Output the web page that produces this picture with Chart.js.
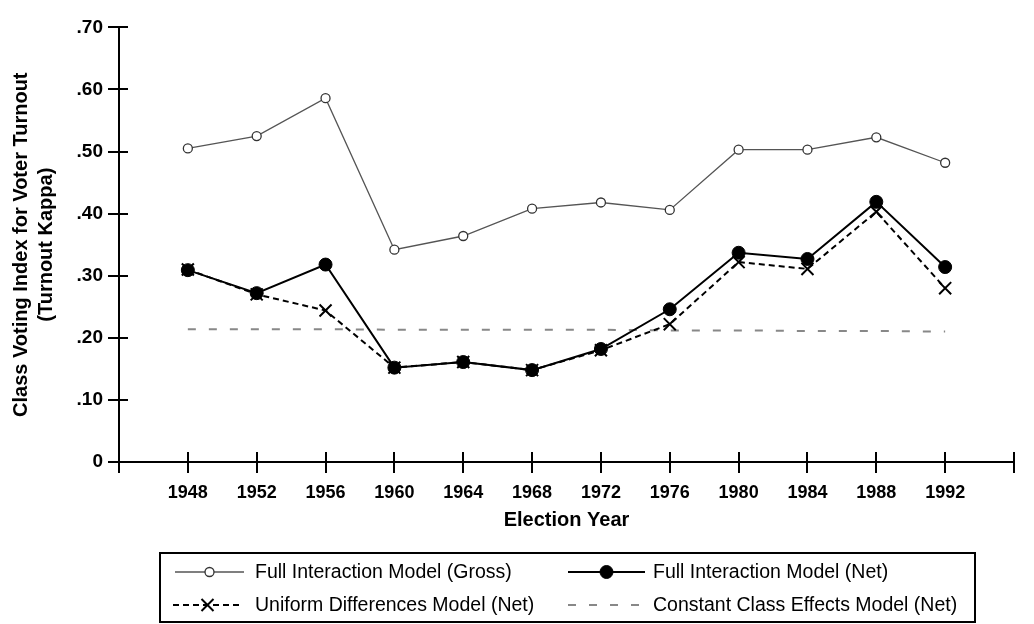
<!DOCTYPE html>
<html>
<head>
<meta charset="utf-8">
<script src="https://cdn.jsdelivr.net/npm/chart.js@4/dist/chart.umd.min.js"></script>
<style>
  html, body { margin: 0; padding: 0; background: #fff; }
  #chart { display: block; }
</style>
</head>
<body>
<canvas id="chart" width="1034" height="624"></canvas>
<script>
// election years (x axis)
const years = [1948, 1952, 1956, 1960, 1964, 1968, 1972, 1976, 1980, 1984, 1988, 1992];

// turnout kappa by model
const grossFull = [0.505, 0.525, 0.586, 0.342, 0.364, 0.408, 0.418, 0.406, 0.503, 0.503, 0.523, 0.482];
const netFull = [0.309, 0.272, 0.318, 0.152, 0.161, 0.148, 0.182, 0.246, 0.337, 0.327, 0.419, 0.314];
const uniformNet = [0.310, 0.270, 0.244, 0.152, 0.161, 0.148, 0.180, 0.222, 0.322, 0.311, 0.403, 0.280];
const constantNet = [0.214, 0.214, 0.214, 0.213, 0.213, 0.213, 0.213, 0.212, 0.212, 0.211, 0.211, 0.210];

const yTicks = [0, 0.1, 0.2, 0.3, 0.4, 0.5, 0.6, 0.7];

const FONT = "'Liberation Sans', Arial, Helvetica, sans-serif";

function pairs(vals) {
  return years.map((yr, i) => ({ x: yr, y: vals[i] }));
}

// ticks that cross the axis lines
const crossTicks = {
  id: "crossTicks",
  afterDraw(chart) {
    const ctx = chart.ctx;
    const xs = chart.scales.x;
    const ys = chart.scales.y;
    ctx.save();
    ctx.strokeStyle = "#000";
    ctx.lineWidth = 2;
    ctx.beginPath();
    xs.ticks.forEach((t) => {
      const px = Math.round(xs.getPixelForValue(t.value));
      ctx.moveTo(px, ys.bottom - 10);
      ctx.lineTo(px, ys.bottom + 11);
    });
    ys.ticks.forEach((t) => {
      const py = Math.round(ys.getPixelForValue(t.value));
      ctx.moveTo(xs.left - 11, py);
      ctx.lineTo(xs.left + 9, py);
    });
    ctx.stroke();
    ctx.restore();
  },
};

// boxed legend under the chart, two columns
const boxLegend = {
  id: "boxLegend",
  afterDraw(chart) {
    const ctx = chart.ctx;
    const sets = chart.data.datasets;
    ctx.save();
    ctx.strokeStyle = "#000";
    ctx.lineWidth = 2;
    ctx.strokeRect(160, 553, 815, 69);

    const slots = [
      { ds: sets[2], x: 175, len: 69, y: 572, text: 255 },
      { ds: sets[0], x: 568, len: 77, y: 572, text: 653 },
      { ds: sets[1], x: 173, len: 69, y: 605, text: 255 },
      { ds: sets[3], x: 568, len: 77, y: 605, text: 653 },
    ];
    slots.forEach((s) => {
      const ds = s.ds;
      const mid = s.x + s.len / 2;
      ctx.save();
      ctx.strokeStyle = ds.borderColor;
      ctx.lineWidth = ds.borderWidth;
      ctx.setLineDash(ds.borderDash || []);
      ctx.beginPath();
      ctx.moveTo(s.x, s.y);
      ctx.lineTo(s.x + s.len, s.y);
      ctx.stroke();
      ctx.setLineDash([]);
      if (ds.pointRadius > 0) {
        ctx.fillStyle = ds.pointBackgroundColor;
        ctx.strokeStyle = ds.pointBorderColor;
        ctx.lineWidth = ds.pointBorderWidth;
        ctx.beginPath();
        if (ds.pointStyle === "circle") {
          ctx.arc(mid, s.y, ds.pointRadius, 0, Math.PI * 2);
          ctx.fill();
          ctx.stroke();
        } else {
          const r = ds.pointRadius * 0.707;
          ctx.moveTo(mid - r, s.y - r);
          ctx.lineTo(mid + r, s.y + r);
          ctx.moveTo(mid + r, s.y - r);
          ctx.lineTo(mid - r, s.y + r);
          ctx.stroke();
        }
      }
      ctx.restore();
      ctx.fillStyle = "#000";
      ctx.font = "19.5px " + FONT;
      ctx.textBaseline = "middle";
      ctx.fillText(ds.label, s.text, s.y + 1);
    });
    ctx.restore();
  },
};

new Chart(document.getElementById("chart"), {
  type: "line",
  data: {
    datasets: [
      {
        label: "Full Interaction Model (Net)",
        data: pairs(netFull),
        borderColor: "#000",
        borderWidth: 2,
        pointStyle: "circle",
        pointRadius: 6.5,
        pointBackgroundColor: "#000",
        pointBorderColor: "#000",
        pointBorderWidth: 1,
        order: 0,
      },
      {
        label: "Uniform Differences Model (Net)",
        data: pairs(uniformNet),
        borderColor: "#000",
        borderWidth: 2,
        borderDash: [6, 4],
        pointStyle: "crossRot",
        pointRadius: 8.5,
        pointBackgroundColor: "#000",
        pointBorderColor: "#000",
        pointBorderWidth: 2,
        order: 1,
      },
      {
        label: "Full Interaction Model (Gross)",
        data: pairs(grossFull),
        borderColor: "#555",
        borderWidth: 1.3,
        pointStyle: "circle",
        pointRadius: 4.5,
        pointBackgroundColor: "#fff",
        pointBorderColor: "#333",
        pointBorderWidth: 1.3,
        order: 2,
      },
      {
        label: "Constant Class Effects Model (Net)",
        data: pairs(constantNet),
        borderColor: "#888",
        borderWidth: 2,
        borderDash: [8, 13],
        pointRadius: 0,
        order: 3,
      },
    ],
  },
  options: {
    responsive: false,
    animation: false,
    layout: { padding: { top: 15, right: 8, left: 0, bottom: 92 } },
    plugins: {
      legend: { display: false },
      tooltip: { enabled: false },
    },
    scales: {
      x: {
        type: "linear",
        min: 1944,
        max: 1996,
        afterBuildTicks(scale) {
          const t = [];
          for (let v = 1944; v <= 1996; v += 4) t.push({ value: v });
          scale.ticks = t;
        },
        afterFit(scale) { scale.height = 70; },
        grid: { display: false, drawTicks: false },
        border: { display: true, color: "#000", width: 2 },
        ticks: {
          padding: 20,
          color: "#000",
          font: { family: FONT, size: 18, weight: "bold" },
          callback: (v) => (v === 1944 || v === 1996 ? "" : String(v)),
        },
        title: {
          display: true,
          text: "Election Year",
          color: "#000",
          font: { family: FONT, size: 20, weight: "bold" },
          padding: { top: 4, bottom: 0 },
        },
      },
      y: {
        min: 0,
        max: 0.7,
        afterBuildTicks(scale) {
          scale.ticks = yTicks.map((v) => ({ value: v }));
        },
        afterFit(scale) { scale.width = 119; },
        grid: { display: false, drawTicks: false },
        border: { display: true, color: "#000", width: 2 },
        ticks: {
          padding: 16,
          color: "#000",
          font: { family: FONT, size: 19, weight: "bold" },
          callback: (v) => (v === 0 ? "0" : "." + String(Math.round(v * 100)).padStart(2, "0")),
        },
        title: {
          display: true,
          text: ["Class Voting Index for Voter Turnout", "(Turnout Kappa)"],
          color: "#000",
          font: { family: FONT, size: 20, weight: "bold", lineHeight: 1.25 },
          padding: { top: 9 },
        },
      },
    },
  },
  plugins: [crossTicks, boxLegend],
});
</script>
</body>
</html>
